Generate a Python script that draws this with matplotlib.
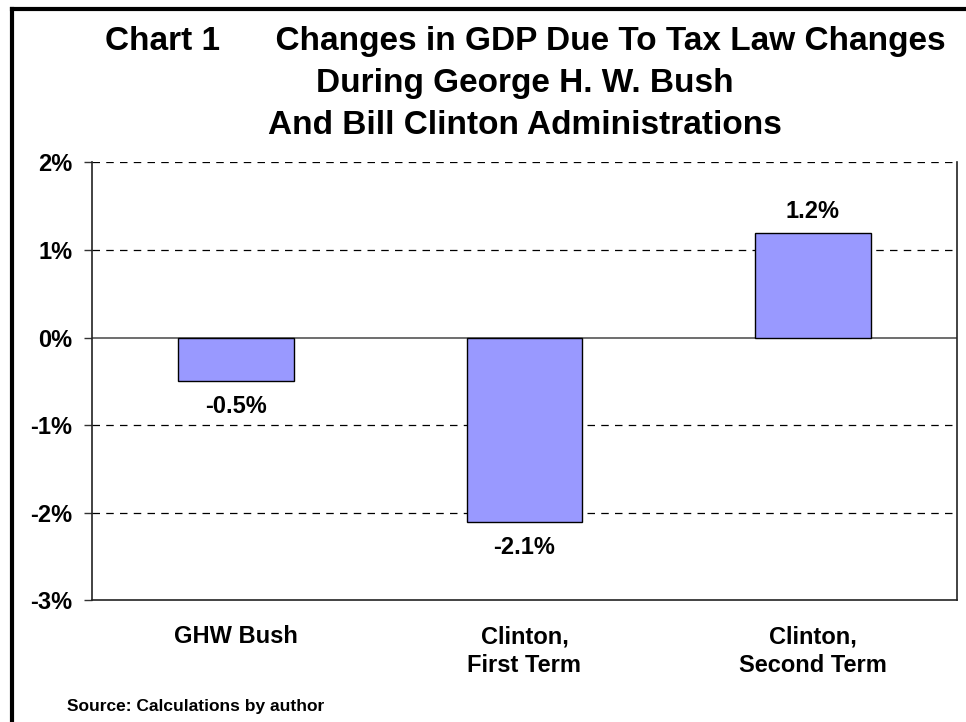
import matplotlib.pyplot as plt
from matplotlib.lines import Line2D

# data
categories = ["GHW Bush", "Clinton,\nFirst Term", "Clinton,\nSecond Term"]
gdp_change = [-0.5, -2.1, 1.2]
value_labels = ["-0.5%", "-2.1%", "1.2%"]
y_ticks = [2, 1, 0, -1, -2, -3]
y_tick_labels = ["2%", "1%", "0%", "-1%", "-2%", "-3%"]

plt.rcParams['font.family'] = ['Liberation Sans', 'DejaVu Sans']
plt.rcParams['font.weight'] = 'bold'

fig = plt.figure(figsize=(9.66, 7.22), dpi=100)
ax = fig.add_axes([0.0952, 0.1683, 0.8955, 0.6067])

x = list(range(len(categories)))
ax.bar(x, gdp_change, width=0.4, color="#9999ff", edgecolor="black", linewidth=1.0, zorder=3)

ax.set_xlim(-0.5, 2.5)
ax.set_ylim(-3, 2)

# gridlines: solid at zero, dashed elsewhere
for t in y_ticks:
    if t == 0:
        ax.axhline(0, color="#555555", linewidth=1.2, zorder=2)
    elif t == -3:
        continue
    else:
        ax.axhline(t, color="black", linewidth=0.9, linestyle=(0, (6, 5)), zorder=1)

ax.set_yticks(y_ticks)
ax.set_yticklabels(y_tick_labels, fontsize=17, fontweight='bold')
ax.tick_params(axis='y', length=6, width=1, pad=8, color="#333333")
ax.set_xticks(x)
ax.set_xticklabels(categories, fontsize=17, fontweight='bold', linespacing=1.3)
ax.tick_params(axis='x', length=0, pad=18)

for s in ['left', 'right', 'bottom']:
    ax.spines[s].set_color("#222222")
    ax.spines[s].set_linewidth(1.2)
ax.spines['top'].set_visible(False)

for xi, v, lab in zip(x, gdp_change, value_labels):
    if v < 0:
        ax.annotate(lab, (xi, v), xytext=(0, -10), textcoords='offset points',
                    ha='center', va='top', fontsize=17, fontweight='bold')
    else:
        ax.annotate(lab, (xi, v), xytext=(0, 7), textcoords='offset points',
                    ha='center', va='bottom', fontsize=17, fontweight='bold')

# title lines
fig.text(0.5435, 0.943, "Chart 1      Changes in GDP Due To Tax Law Changes",
         ha='center', va='center', fontsize=24, fontweight='bold')
fig.text(0.5435, 0.885, "During George H. W. Bush",
         ha='center', va='center', fontsize=24, fontweight='bold')
fig.text(0.5435, 0.826, "And Bill Clinton Administrations",
         ha='center', va='center', fontsize=24, fontweight='bold')

fig.text(0.069, 0.021, "Source: Calculations by author",
         ha='left', va='center', fontsize=12.5, fontweight='bold')

# frame around chart (top and left visible)
fig.add_artist(Line2D([0.0124, 1.0], [0.987, 0.987], color='black', linewidth=3, transform=fig.transFigure))
fig.add_artist(Line2D([0.0124, 0.0124], [0.0, 0.987], color='black', linewidth=3, transform=fig.transFigure))

fig.savefig("out.png", dpi=100)
